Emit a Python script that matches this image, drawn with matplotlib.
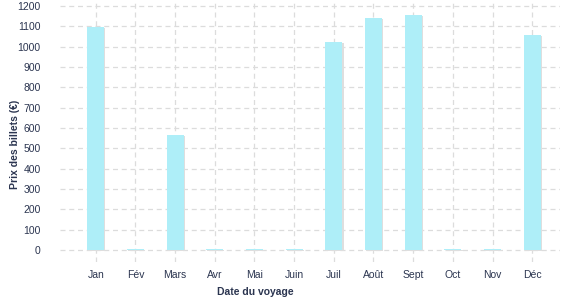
import matplotlib.pyplot as plt
import numpy as np

months = ['Jan', 'Fév', 'Mars', 'Avr', 'Mai', 'Juin', 'Juil', 'Août', 'Sept', 'Oct', 'Nov', 'Déc']
prices = [1095, 5, 563, 5, 5, 5, 1022, 1140, 1155, 5, 5, 1057]
yticks = list(range(0, 1300, 100))

plt.rcParams['font.family'] = ['Liberation Sans', 'DejaVu Sans']
text_col = '#2b3550'

fig = plt.figure(figsize=(5.77, 3.0), dpi=100)
ax = fig.add_axes([60 / 577, 38 / 300, 500 / 577, 262 / 300])

x = np.arange(len(months))
w = 0.43
# light shadow behind the bars
ax.bar(x + 0.03, prices, width=w, bottom=-4, color='#dedede', zorder=2)
ax.bar(x, prices, width=w, color='#aeeef8', zorder=3)

ax.set_xlim(-0.9, 11.7)
ax.set_ylim(-60, 1230)
ax.set_xticks(x)
ax.set_xticklabels(months)
ax.set_yticks(yticks)
ax.tick_params(axis='both', length=0, labelsize=7.5, colors=text_col, pad=6)
ax.tick_params(axis='y', pad=14)

ax.grid(True, color='#dcdcdc', linestyle=(0, (4, 3)), linewidth=0.9, zorder=0)
for s in ax.spines.values():
    s.set_visible(False)

ax.set_xlabel('Date du voyage', fontsize=7.5, fontweight='bold', color=text_col)
ax.xaxis.set_label_coords(195 / 500, -0.095)
ax.set_ylabel('Prix des billets (€)', fontsize=7.5, fontweight='bold', color=text_col)
ax.yaxis.set_label_coords(-40 / 500, 0.45)

fig.savefig('out.png', dpi=100)
